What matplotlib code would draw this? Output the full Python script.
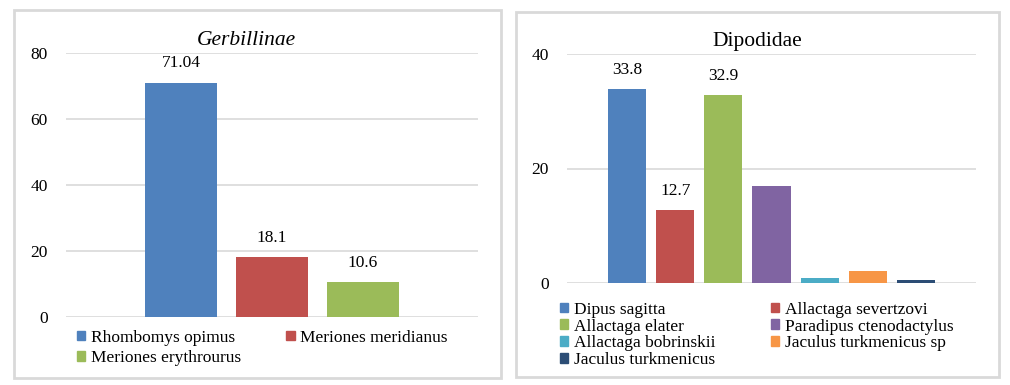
import matplotlib.pyplot as plt
from matplotlib.patches import Patch, Rectangle

plt.rcParams['font.family'] = ['Liberation Serif', 'DejaVu Serif']

# Gerbillinae
gerb_names = ['Rhombomys opimus', 'Meriones meridianus', 'Meriones erythrourus']
gerb_values = [71.04, 18.1, 10.6]
gerb_labels = ['71.04', '18.1', '10.6']
gerb_colors = ['#4F81BD', '#C0504D', '#9BBB59']

# Dipodidae
dip_names = ['Dipus sagitta', 'Allactaga severtzovi', 'Allactaga elater',
             'Paradipus ctenodactylus', 'Allactaga bobrinskii',
             'Jaculus turkmenicus sp', 'Jaculus turkmenicus']
dip_values = [33.8, 12.7, 32.9, 16.9, 0.9, 2.1, 0.6]
dip_labels = ['33.8', '12.7', '32.9', '', '', '', '']
dip_colors = ['#4F81BD', '#C0504D', '#9BBB59', '#8064A2', '#4BACC6', '#F79646', '#2C4D75']

W, H = 1010, 385
fig = plt.figure(figsize=(W / 100, H / 100), dpi=100)


def px_rect(x0, y0, x1, y1):
    """ Pikseliai -> figuros koordinatės. """
    return [x0 / W, 1 - y1 / H, (x1 - x0) / W, (y1 - y0) / H]


# rėmeliai
for (x0, y0, x1, y1) in [(14, 10, 501, 378), (516, 12, 999, 377)]:
    r = px_rect(x0, y0, x1, y1)
    fig.patches.append(Rectangle((r[0], r[1]), r[2], r[3], transform=fig.transFigure,
                                 fill=False, edgecolor='#D9D9D9', linewidth=2))


def draw_panel(ax, values, labels, colors, ymax, step, title, italic, left_unit, title_x):
    x = list(range(len(values)))
    ax.bar(x, values, width=0.79, color=colors, zorder=3)
    for xi, v, lab in zip(x, values, labels):
        if lab:
            ax.annotate(lab, (xi, v), xytext=(0, 8), textcoords='offset points',
                        ha='center', va='bottom', fontsize=12.5)
    ax.set_ylim(0, ymax)
    ax.set_xlim(-left_unit, len(values) - 1 + left_unit)
    ax.set_yticks(range(0, ymax + 1, step))
    ax.yaxis.grid(True, color='#D9D9D9', linewidth=1.2, zorder=0)
    ax.set_xticks([])
    for s in ax.spines.values():
        s.set_visible(False)
    ax.tick_params(axis='y', length=0, pad=13, labelsize=12.5)
    ax.set_title(title, fontsize=15.5, style='italic' if italic else 'normal', pad=6, x=title_x)


def row_major(items):
    """ Legendos eilės tvarka: eilutėmis, o ne stulpeliais (2 stulpeliai). """
    return items[0::2] + items[1::2]


ax1 = fig.add_axes(px_rect(66, 53, 478, 317))
draw_panel(ax1, gerb_values, gerb_labels, gerb_colors, 80, 20, 'Gerbillinae', True, 1.264, 0.437)

ax2 = fig.add_axes(px_rect(567, 54, 976, 283))
draw_panel(ax2, dip_values, dip_labels, dip_colors, 40, 20, 'Dipodidae', False, 1.25, 0.465)

h1 = [Patch(color=c, label=n) for c, n in zip(gerb_colors, gerb_names)]
fig.legend(handles=row_major(h1), loc='upper left', bbox_to_anchor=(68 / W, 1 - 321 / H), ncol=2,
           frameon=False, fontsize=12.5, handlelength=0.5, handleheight=0.5,
           handletextpad=0.3, columnspacing=2.6, labelspacing=0.25, borderpad=0)

h2 = [Patch(color=c, label=n) for c, n in zip(dip_colors, dip_names)]
fig.legend(handles=row_major(h2), loc='upper left', bbox_to_anchor=(551 / W, 1 - 293 / H), ncol=2,
           frameon=False, fontsize=12.5, handlelength=0.5, handleheight=0.5,
           handletextpad=0.3, columnspacing=3.2, labelspacing=0.05, borderpad=0)

fig.savefig('out.png', dpi=100)
